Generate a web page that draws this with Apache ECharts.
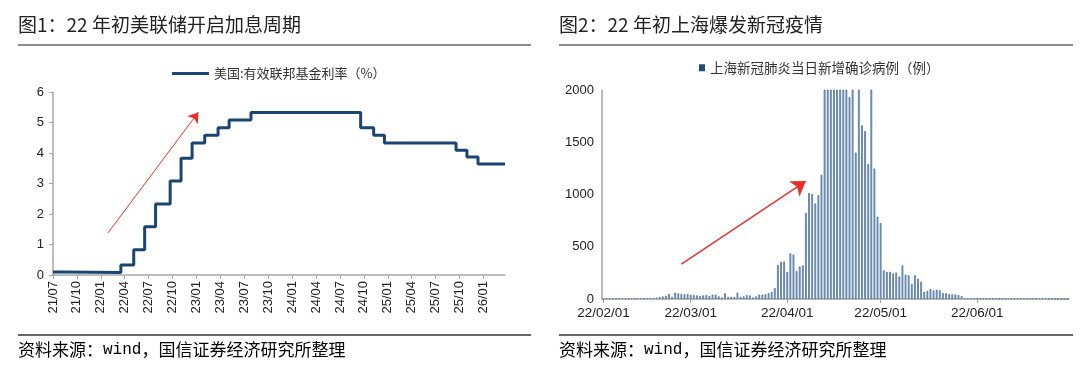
<!DOCTYPE html>
<html><head><meta charset="utf-8">
<script src="https://cdn.jsdelivr.net/npm/echarts@6/dist/echarts.min.js"></script>
<style>html,body{margin:0;padding:0;background:#fff}#c{width:1080px;height:371px}</style>
</head><body><div id="c"></div>
<script>
// ---------- Data: Fed effective funds rate (step changes) ----------
const fedDates = ['2021-07-01','2021-08-20','2022-03-17','2022-05-05','2022-06-16','2022-07-28','2022-09-22','2022-11-03','2022-12-15','2023-02-02','2023-03-23','2023-05-04','2023-07-27','2024-09-19','2024-11-08','2024-12-19','2025-09-18','2025-10-30','2025-12-11','2026-03-23'];
const fedRates = [0.10,0.08,0.33,0.83,1.58,2.33,3.08,3.83,4.33,4.58,4.83,5.08,5.33,4.83,4.58,4.33,4.09,3.87,3.64,3.64];
const fedTickLabels = ['21/07','21/10','22/01','22/04','22/07','22/10','23/01','23/04','23/07','23/10','24/01','24/04','24/07','24/10','25/01','25/04','25/07','25/10','26/01'];
const fedName = '美国:有效联邦基金利率（%）';

// ---------- Data: Shanghai daily new confirmed cases ----------
const shFeb = [3,5,2,6,4,3,7,5,4,6,3,8,5,4,7,6,9,12,20,25,32,50,20,60,55,48,45,48];
const shMar = [40,38,35,28,35,38,28,42,42,25,15,55,20,22,20,60,20,25,38,35,15,25,42,42,45,55,68,105,326,355,358];
const shApr = [260,438,425,268,311,322,824,1015,1006,914,994,1189,2573,3200,3590,3238,2417,3084,2494,2634,1931,2736,1401,2472,1661,1606,1292,5487,1249,788];
const shMay = [727,274,260,261,245,253,215,322,234,228,144,227,194,166,69,77,96,82,88,84,57,55,48,44,45,39,29,10,8,6,5];
const shJun = [10,6,5,4,3,4,5,3,2,4,6,3,5,4,3,7,4,3,5,2,6,3,8,0,0,0,0,0,0,0];
const shName = '上海新冠肺炎当日新增确诊病例（例）';

// ---------- helpers ----------
function dim(y,m){return new Date(y,m,0).getDate();}
function monthIdx(s){const [y,m,d]=s.split('-').map(Number);return (y-2021)*12+(m-7)+(d-1)/dim(y,m);}
const fedData = fedDates.map((d,i)=>[monthIdx(d),fedRates[i]]);

const shValues = shFeb.concat(shMar,shApr,shMay,shJun);
const shCats = [];
(function(){const t=new Date(2022,1,1);for(let i=0;i<shValues.length;i++){const y=String(t.getFullYear()).slice(2),m=String(t.getMonth()+1).padStart(2,'0'),d=String(t.getDate()).padStart(2,'0');shCats.push(y+'/'+m+'/'+d);t.setDate(t.getDate()+1);}})();

const numFont='Liberation Sans';
const cjkFont='"Noto Sans CJK SC", "Liberation Sans", sans-serif';
const axisGray='#a6a6a6';
const srcRich={a:{fontSize:17,fontFamily:cjkFont,color:'#222'},m:{fontSize:16,fontFamily:'Liberation Mono',color:'#222'}};
const srcText='{a|资料来源：}{m|wind}{a|，国信证券经济研究所整理}';
const chart = echarts.init(document.getElementById('c'),null,{renderer:'canvas'});
chart.setOption({
  animation:false,
  backgroundColor:'#fff',
  textStyle:{fontFamily:cjkFont},
  graphic:[
    {type:'text',left:18,top:15,style:{text:'图1：22 年初美联储开启加息周期',font:'19px '+cjkFont,fill:'#222'}},
    {type:'text',left:559,top:15,style:{text:'图2：22 年初上海爆发新冠疫情',font:'19px '+cjkFont,fill:'#222'}},
    {type:'line',shape:{x1:18,y1:45,x2:531,y2:45},style:{stroke:'#666',lineWidth:1.5}},
    {type:'line',shape:{x1:559,y1:45,x2:1073,y2:45},style:{stroke:'#666',lineWidth:1.5}},
    {type:'line',shape:{x1:18,y1:335,x2:531,y2:335},style:{stroke:'#333',lineWidth:1.5}},
    {type:'line',shape:{x1:559,y1:335,x2:1073,y2:335},style:{stroke:'#333',lineWidth:1.5}},
    {type:'text',left:18,top:341,style:{text:srcText,rich:srcRich}},
    {type:'text',left:559,top:341,style:{text:srcText,rich:srcRich}}
  ],
  legend:[
    {data:[fedName],left:167,top:62,icon:'rect',itemWidth:37,itemHeight:3,itemGap:8,
     textStyle:{fontSize:13,color:'#333',fontFamily:cjkFont}},
    {data:[{name:shName,itemStyle:{color:'#1f4e79',borderWidth:0}}],left:694,top:56,icon:'rect',itemWidth:6,itemHeight:7,itemGap:4,
     textStyle:{fontSize:13.5,color:'#333',fontFamily:cjkFont}}
  ],
  grid:[
    {left:53,top:92,width:452,height:183,containLabel:false},
    {left:602,top:90,width:467,height:209,containLabel:false}
  ],
  xAxis:[
    {type:'value',gridIndex:0,min:0,max:monthIdx('2026-03-23'),interval:3,
     axisLine:{lineStyle:{color:axisGray,width:1.5}},
     axisTick:{show:true,length:4,lineStyle:{color:axisGray}},
     splitLine:{show:false},
     axisLabel:{rotate:90,fontSize:13,color:'#222',fontFamily:numFont,margin:6,showMaxLabel:false,
       formatter:v=>fedTickLabels[Math.round(v/3)]||''}},
    {type:'category',gridIndex:1,data:shCats,boundaryGap:true,
     axisLine:{lineStyle:{color:axisGray,width:1.5}},
     axisTick:{show:true,alignWithLabel:true,length:4,lineStyle:{color:axisGray},interval:(i,v)=>v.endsWith('/01')},
     axisLabel:{fontSize:13.5,color:'#222',fontFamily:numFont,margin:7,interval:(i,v)=>v.endsWith('/01')}}
  ],
  yAxis:[
    {type:'value',gridIndex:0,min:0,max:6,interval:1,
     axisLine:{show:true,lineStyle:{color:axisGray,width:1.5}},
     axisTick:{show:true,length:4,lineStyle:{color:axisGray}},
     splitLine:{show:false},
     axisLabel:{fontSize:13,color:'#222',fontFamily:numFont,margin:9}},
    {type:'value',gridIndex:1,min:0,max:2000,interval:500,
     axisLine:{show:true,lineStyle:{color:axisGray,width:1.5}},
     axisTick:{show:false},
     splitLine:{show:false},
     axisLabel:{fontSize:13,color:'#222',fontFamily:numFont,margin:8,formatter:v=>String(v)}}
  ],
  series:[
    {name:fedName,type:'line',xAxisIndex:0,yAxisIndex:0,step:'end',data:fedData,showSymbol:false,
     lineStyle:{color:'#1a4472',width:3},itemStyle:{color:'#1a4472'},
     markLine:{silent:true,symbol:['none','arrow'],symbolSize:10,animation:false,label:{show:false},
       itemStyle:{color:'#e8302a'},
       lineStyle:{color:'#e8302a',width:1,type:'solid'},
       data:[[{coord:[6.9,1.38]},{coord:[18.25,5.34]}]]}},
    {name:shName,type:'bar',xAxisIndex:1,yAxisIndex:1,data:shValues,barWidth:'55%',clip:true,
     itemStyle:{color:'#9dbbd8',borderColor:'#3f6690',borderWidth:0.7},
     markLine:{silent:true,symbol:['none','arrow'],symbolSize:14,animation:false,label:{show:false},
       itemStyle:{color:'#e8302a'},
       lineStyle:{color:'#e8302a',width:1.5,type:'solid'},
       data:[[{coord:[25,333]},{coord:[65,1128]}]]}}
  ]
});
</script></body></html>
